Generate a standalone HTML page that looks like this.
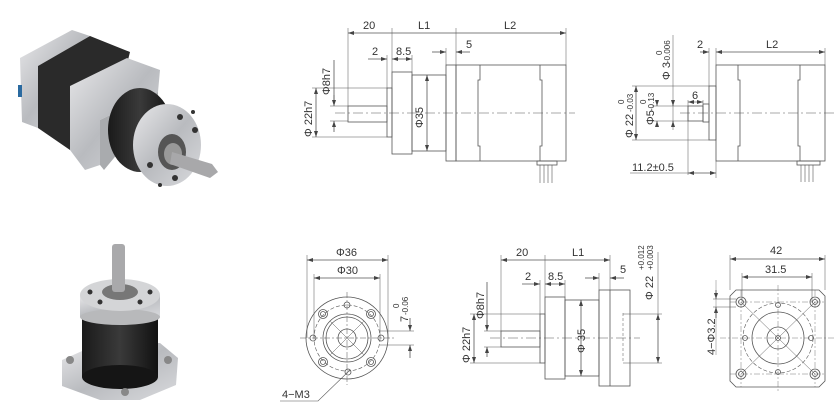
<!DOCTYPE html>
<html><head><meta charset="utf-8"><style>
html,body{margin:0;padding:0;background:#fff;}
svg{display:block;}
text{font-family:"Liberation Sans",sans-serif;fill:#333;}
</style></head><body>
<svg width="840" height="420" viewBox="0 0 840 420" xmlns="http://www.w3.org/2000/svg">
<defs>
<marker id="a" markerWidth="6" markerHeight="6" refX="6" refY="3" orient="auto-start-reverse" markerUnits="userSpaceOnUse"><path d="M0,1 L6,3 L0,5 z" fill="#444"/></marker>
<linearGradient id="sil" x1="0" y1="0" x2="1" y2="1"><stop offset="0" stop-color="#e8e8ea"/><stop offset="0.5" stop-color="#b9bbbf"/><stop offset="1" stop-color="#d9dadd"/></linearGradient>
<linearGradient id="blk" x1="0" y1="0" x2="1" y2="0"><stop offset="0" stop-color="#1a1a1a"/><stop offset="0.5" stop-color="#3a3a3a"/><stop offset="1" stop-color="#111"/></linearGradient>
</defs>

<!-- ===== Photo top ===== -->
<g>
<polygon points="20,58 72,30 90,36 38,66 38,128 22,122" fill="url(#sil)"/>
<polygon points="38,66 90,36 130,52 128,60 78,88 70,150 38,128" fill="#2a2a2a"/>
<polygon points="70,86 127,58 160,70 158,92 100,120 100,165 85,170 70,150" fill="url(#sil)"/>
<polygon points="100,120 158,92 158,105 104,170 100,165" fill="#a9abae"/>
<ellipse cx="140" cy="130" rx="32" ry="42" fill="url(#blk)"/>
<ellipse cx="167" cy="145" rx="34" ry="41" fill="url(#sil)"/>
<ellipse cx="172" cy="152" rx="14" ry="18" fill="#555"/>
<ellipse cx="173" cy="154" rx="9" ry="11" fill="#999"/>
<circle cx="180" cy="117" r="3" fill="#333"/><circle cx="195" cy="130" r="3" fill="#333"/>
<circle cx="150" cy="165" r="3" fill="#333"/><circle cx="175" cy="178" r="3" fill="#333"/>
<circle cx="193" cy="112" r="2" fill="#333"/><circle cx="160" cy="185" r="2" fill="#333"/>
<polygon points="172,152 212,164 218,172 210,178 170,164" fill="#a8a8aa"/>
<rect x="18" y="85" width="4" height="12" fill="#2a6aa0"/>
</g>

<!-- ===== Photo bottom ===== -->
<g>
<polygon points="62,360 100,343 160,343 178,358 176,385 140,400 100,400 62,386" fill="url(#sil)"/>
<rect x="82" y="315" width="76" height="62" fill="url(#blk)"/>
<ellipse cx="120" cy="377" rx="38" ry="12" fill="#151515"/>
<rect x="80" y="295" width="80" height="22" fill="url(#sil)"/>
<ellipse cx="120" cy="317" rx="40" ry="8" fill="#b8b9bb"/>
<ellipse cx="120" cy="295" rx="40" ry="16" fill="#d4d5d7"/>
<ellipse cx="120" cy="292" rx="18" ry="8" fill="#777"/>
<circle cx="90" cy="292" r="2.5" fill="#333"/><circle cx="150" cy="292" r="2.5" fill="#333"/>
<circle cx="100" cy="302" r="2.5" fill="#333"/><circle cx="140" cy="302" r="2.5" fill="#333"/>
<circle cx="70" cy="360" r="4" fill="#888"/><circle cx="168" cy="360" r="4" fill="#888"/>
<circle cx="125" cy="392" r="4" fill="#888"/>
<rect x="112" y="244" width="13" height="48" rx="3" fill="#a9a9ab"/>
</g>

<g fill="none" stroke="#555" stroke-width="0.8">
<!-- ===== Top side view ===== -->
<rect x="348" y="106" width="39" height="16"/>
<rect x="387" y="88" width="5" height="49"/>
<rect x="392" y="72" width="20" height="82"/>
<rect x="412" y="75" width="34" height="76"/>
<rect x="446" y="65" width="10" height="96"/>
<rect x="456" y="65" width="110" height="96"/>
<path d="M480,65 V80 H478 V146 H480 V161 M540,65 V80 H542 V146 H540 V161"/>
<rect x="537" y="161" width="20" height="4"/>
<path d="M540,165 V183 M544,165 V183 M548,165 V183 M552,165 V183" stroke-width="0.6"/>
<path d="M335,113 H575" stroke-dasharray="10,3,2,3" stroke-width="0.6"/>
<path d="M348,28 V106 M392,28 V72 M456,28 V65 M566,28 V65 M387,55 V88 M412,55 V72 M446,48 V65" stroke-width="0.5"/>
<path d="M348,33 H392 M392,33 H456 M456,33 H566" marker-start="url(#a)" marker-end="url(#a)"/>
<path d="M368,59 H387" marker-end="url(#a)"/><path d="M392,59 H412" marker-start="url(#a)" marker-end="url(#a)"/>
<path d="M432,52 H446" marker-end="url(#a)"/><path d="M470,52 H456" marker-end="url(#a)"/>
<path d="M312,88 H387 M312,137 H387 M330,106 H348 M330,121 H348" stroke-width="0.5"/>
<path d="M316,88 V137" marker-start="url(#a)" marker-end="url(#a)"/>
<path d="M334,60 V100" /><path d="M334,95 V106" marker-end="url(#a)"/><path d="M334,132 V121" marker-end="url(#a)"/>
<path d="M427,75 V151" marker-start="url(#a)" marker-end="url(#a)"/>

<!-- ===== Top right view ===== -->
<rect x="688" y="106" width="15" height="15"/>
<rect x="703" y="104" width="6" height="18"/>
<rect x="709" y="86" width="7" height="54"/>
<rect x="716" y="65" width="109" height="96"/>
<path d="M738,65 V80 H740 V146 H738 V161 M800,65 V80 H798 V146 H800 V161"/>
<rect x="797" y="161" width="23" height="4"/>
<path d="M801,165 V182 M805,165 V182 M809,165 V182 M813,165 V182" stroke-width="0.6"/>
<path d="M680,113 H835" stroke-dasharray="10,3,2,3" stroke-width="0.6"/>
<path d="M709,48 V86 M716,48 V65 M825,48 V65 M688,100 V175 M716,161 V178 M703,100 V104" stroke-width="0.5"/>
<path d="M716,52 H825" marker-start="url(#a)" marker-end="url(#a)"/>
<path d="M700,52 H709" marker-end="url(#a)"/>
<path d="M688,102 H703" marker-start="url(#a)" marker-end="url(#a)" stroke-width="0.6"/>
<path d="M688,173 H716" marker-start="url(#a)" marker-end="url(#a)"/>
<path d="M630,173 H688" stroke-width="0.5"/>
<path d="M632,86 H709 M632,140 H709 M652,106 H688 M652,121 H688" stroke-width="0.5"/>
<path d="M636,86 V140" marker-start="url(#a)" marker-end="url(#a)"/>
<path d="M657,100 V106" marker-end="url(#a)"/><path d="M657,127 V121" marker-end="url(#a)"/>
<path d="M673,35 V130" stroke-width="0.5"/>
<path d="M673,100 V106" marker-end="url(#a)"/><path d="M673,127 V121" marker-end="url(#a)"/>

<!-- ===== Bottom front view (circle) ===== -->
<circle cx="347" cy="338" r="41"/>
<circle cx="347" cy="338" r="33" stroke-dasharray="4,2" stroke-width="0.6"/>
<circle cx="347" cy="338" r="24"/>
<circle cx="347" cy="338" r="21"/>
<circle cx="347" cy="338" r="9"/>
<path d="M330,321 L364,355 M364,321 L330,355" stroke-width="0.5"/>
<circle cx="347" cy="305" r="3"/><circle cx="313" cy="338" r="3"/><circle cx="381" cy="338" r="3"/>
<circle cx="323" cy="314" r="4.5"/><circle cx="323" cy="314" r="2.5"/>
<circle cx="371" cy="314" r="4.5"/><circle cx="371" cy="314" r="2.5"/>
<circle cx="323" cy="362" r="4.5"/><circle cx="323" cy="362" r="2.5"/>
<circle cx="371" cy="362" r="4.5"/><circle cx="371" cy="362" r="2.5"/>
<circle cx="348" cy="372" r="3"/>
<path d="M300,338 H395 M347,292 V385" stroke-dasharray="6,2,2,2" stroke-width="0.5"/>
<path d="M307,255 V338 M388,255 V338 M314,274 V338 M380,274 V338" stroke-width="0.5"/>
<path d="M307,260 H388" marker-start="url(#a)" marker-end="url(#a)"/>
<path d="M314,278 H380" marker-start="url(#a)" marker-end="url(#a)"/>
<path d="M350,370 L318,401 H280" stroke-width="0.6"/>
<path d="M380,331 H414 M380,345 H414" stroke-width="0.5"/>
<path d="M410,318 V331" marker-end="url(#a)"/><path d="M410,358 V345" marker-end="url(#a)"/>

<!-- ===== Bottom side view ===== -->
<rect x="501" y="331" width="39" height="16"/>
<rect x="540" y="314" width="5" height="49"/>
<rect x="545" y="297" width="20" height="82"/>
<rect x="565" y="300" width="34" height="76"/>
<rect x="599" y="290" width="31" height="96"/>
<path d="M610,290 V386"/>
<path d="M623,313 V363" stroke-dasharray="3,2" stroke-width="0.5"/>
<path d="M490,338 H640" stroke-dasharray="10,3,2,3" stroke-width="0.6"/>
<path d="M501,255 V331 M545,255 V297 M610,255 V290 M540,280 V314 M565,280 V297 M599,273 V290 M658,252 V314" stroke-width="0.5"/>
<path d="M501,260 H545 M545,260 H610" marker-start="url(#a)" marker-end="url(#a)"/>
<path d="M522,284 H540" marker-end="url(#a)"/><path d="M545,284 H565" marker-start="url(#a)" marker-end="url(#a)"/>
<path d="M585,278 H599" marker-end="url(#a)"/><path d="M624,278 H610" marker-end="url(#a)"/>
<path d="M470,314 H540 M470,363 H540 M484,331 H501 M484,347 H501 M623,314 H662 M623,363 H662" stroke-width="0.5"/>
<path d="M474,314 V363" marker-start="url(#a)" marker-end="url(#a)"/>
<path d="M487,282 V325"/><path d="M487,320 V331" marker-end="url(#a)"/><path d="M487,357 V347" marker-end="url(#a)"/>
<path d="M581,300 V376" marker-start="url(#a)" marker-end="url(#a)"/>
<path d="M658,314 V363" marker-start="url(#a)" marker-end="url(#a)"/>

<!-- ===== Bottom right flange view ===== -->
<path d="M736,290 H819 L825,296 V381 L819,387 H736 L730,381 V296 Z"/>
<circle cx="778" cy="338" r="35" stroke-dasharray="4,2" stroke-width="0.6"/>
<circle cx="778" cy="338" r="26"/>
<circle cx="778" cy="338" r="11"/>
<circle cx="778" cy="338" r="2.5"/>
<path d="M741,302 L815,374 M815,302 L741,374" stroke-width="0.5"/>
<circle cx="741" cy="302" r="5"/><circle cx="741" cy="302" r="2.5"/>
<circle cx="815" cy="302" r="5"/><circle cx="815" cy="302" r="2.5"/>
<circle cx="741" cy="374" r="5"/><circle cx="741" cy="374" r="2.5"/>
<circle cx="815" cy="374" r="5"/><circle cx="815" cy="374" r="2.5"/>
<circle cx="778" cy="305" r="2.5"/><circle cx="778" cy="372" r="2.5"/>
<circle cx="745" cy="338" r="2.5"/><circle cx="811" cy="338" r="2.5"/>
<path d="M720,338 H835 M778,285 V392 M741,290 V387 M815,290 V387 M730,302 H825 M730,374 H825" stroke-dasharray="6,2,2,2" stroke-width="0.4"/>
<path d="M730,255 V290 M825,255 V290 M742,273 V302 M812,273 V302" stroke-width="0.5"/>
<path d="M730,259 H825" marker-start="url(#a)" marker-end="url(#a)"/>
<path d="M742,277 H812" marker-start="url(#a)" marker-end="url(#a)"/>
<path d="M713,299 H736 M713,307 H736" stroke-width="0.5"/>
<path d="M716,290 V299" marker-end="url(#a)"/><path d="M716,318 V307" marker-end="url(#a)"/>
<path d="M716,280 V355" stroke-width="0.4"/>
</g>

<g font-size="11">
<text x="363" y="29">20</text><text x="418" y="29">L1</text><text x="504" y="29">L2</text>
<text x="372" y="55">2</text><text x="396" y="55">8.5</text><text x="466" y="48">5</text>
<text transform="translate(312,137) rotate(-90)">Φ 22h7</text>
<text transform="translate(330,95) rotate(-90)">Φ8h7</text>
<text transform="translate(423,128) rotate(-90)">Φ35</text>
<text x="697" y="48">2</text><text x="766" y="48">L2</text><text x="692" y="99">6</text>
<text x="632" y="171">11.2±0.5</text>
<text transform="translate(633,138) rotate(-90)">Φ 22</text>
<text transform="translate(633,112) rotate(-90)" font-size="8">-0.03</text>
<text transform="translate(624,104) rotate(-90)" font-size="8">0</text>
<text transform="translate(654,125) rotate(-90)">Φ5</text>
<text transform="translate(654,111) rotate(-90)" font-size="8">-0.13</text>
<text transform="translate(646,104) rotate(-90)" font-size="8">0</text>
<text transform="translate(670,80) rotate(-90)">Φ 3</text>
<text transform="translate(670,63) rotate(-90)" font-size="8">-0.006</text>
<text transform="translate(662,55) rotate(-90)" font-size="8">0</text>
<text x="336" y="256">Φ36</text><text x="337" y="274">Φ30</text>
<text x="282" y="398">4−M3</text>
<text transform="translate(408,322) rotate(-90)">7</text>
<text transform="translate(408,315) rotate(-90)" font-size="8">-0.06</text>
<text transform="translate(399,308) rotate(-90)" font-size="8">0</text>
<text x="516" y="256">20</text><text x="572" y="256">L1</text>
<text x="525" y="280">2</text><text x="548" y="280">8.5</text><text x="620" y="273">5</text>
<text transform="translate(470,363) rotate(-90)">Φ 22h7</text>
<text transform="translate(484,319) rotate(-90)">Φ8h7</text>
<text transform="translate(585,353) rotate(-90)">Φ 35</text>
<text transform="translate(653,300) rotate(-90)">Φ 22</text>
<text transform="translate(644,270) rotate(-90)" font-size="8">+0.012</text>
<text transform="translate(653,270) rotate(-90)" font-size="8">+0.003</text>
<text x="770" y="254">42</text><text x="765" y="273">31.5</text>
<text transform="translate(715,355) rotate(-90)">4−Φ3.2</text>
</g>
</svg>
</body></html>
